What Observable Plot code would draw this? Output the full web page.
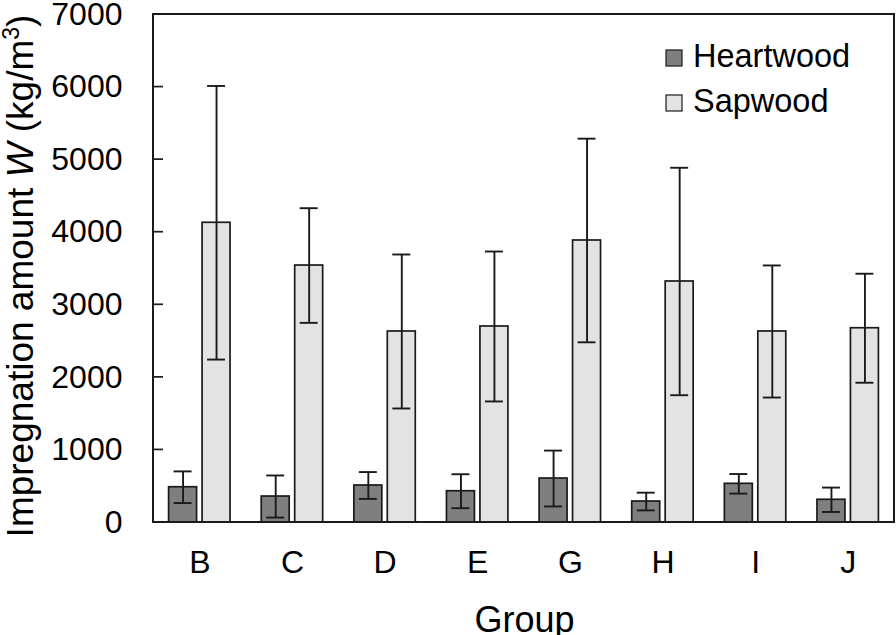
<!DOCTYPE html>
<html><head><meta charset="utf-8">
<script src="https://cdn.jsdelivr.net/npm/d3@7"></script>
<script src="https://cdn.jsdelivr.net/npm/@observablehq/plot@0.6"></script>
<style>body{margin:0;background:#fff} svg{display:block}</style>
</head><body><div id="chart"></div>
<script>
// ---- data ----
const groups = ["B", "C", "D", "E", "G", "H", "I", "J"];
const seriesNames = ["Heartwood", "Sapwood"];
const heartMean = [486, 358, 510, 431, 606, 289, 533, 313];
const heartSD   = [218, 290, 185, 234, 385, 122, 135, 168];
const sapMean   = [4130, 3541, 2632, 2701, 3886, 3321, 2632, 2677];
const sapSD     = [1885, 790, 1061, 1033, 1403, 1567, 910, 751];
const yTicks = [0, 1000, 2000, 3000, 4000, 5000, 6000, 7000];
const xTitle = "Group";
const fills = ["#7f7f7f", "#e3e3e3"];

const rows = [];
groups.forEach((g, i) => {
  rows.push({group: g, series: seriesNames[0], mean: heartMean[i], lo: heartMean[i] - heartSD[i], hi: heartMean[i] + heartSD[i]});
  rows.push({group: g, series: seriesNames[1], mean: sapMean[i], lo: sapMean[i] - sapSD[i], hi: sapMean[i] + sapSD[i]});
});

const W = 896, H = 635;
const M = {left: 153, right: 2, top: 14, bottom: 113};
const ink = "#1a1a1a";

const plot = Plot.plot({
  width: W, height: H,
  marginLeft: M.left, marginRight: M.right, marginTop: M.top, marginBottom: M.bottom,
  style: {fontFamily: "'Liberation Sans', Arial, sans-serif", fontSize: "32px", color: "#000", background: "#fff"},
  fx: {domain: groups, padding: 0, round: false, label: null, axis: "bottom", tickSize: 0, tickPadding: 28},
  x: {domain: seriesNames, axis: null, round: false, paddingInner: 0.164, paddingOuter: 0.466},
  y: {domain: [0, 7000], ticks: yTicks, tickFormat: d => String(d), tickSize: 0, tickPadding: 31, label: null},
  color: {domain: seriesNames, range: fills},
  marks: [
    Plot.barY(rows, {fx: "group", x: "series", y: "mean", fill: "series", stroke: ink, strokeWidth: 1.7}),
    Plot.ruleX(rows, {fx: "group", x: "series", y1: "lo", y2: "hi", stroke: ink, strokeWidth: 1.9}),
    Plot.tickY(rows, {fx: "group", x: "series", y: "hi", inset: 5, stroke: ink, strokeWidth: 1.9}),
    Plot.tickY(rows, {fx: "group", x: "series", y: "lo", inset: 5, stroke: ink, strokeWidth: 1.9})
  ]
});

const svg = d3.select(plot);
const ys = plot.scale("y");
const fx0 = M.left, fx1 = W - M.right, fy0 = M.top, fy1 = H - M.bottom;

// inward y ticks
svg.append("g").selectAll("line").data(yTicks).join("line")
  .attr("x1", fx0).attr("x2", fx0 + 10)
  .attr("y1", d => ys.apply(d)).attr("y2", d => ys.apply(d))
  .attr("stroke", ink).attr("stroke-width", 1.7);

// frame
svg.append("rect").attr("x", fx0).attr("y", fy0).attr("width", fx1 - fx0).attr("height", fy1 - fy0)
  .attr("fill", "none").attr("stroke", ink).attr("stroke-width", 2);

// legend
const lg = svg.append("g").attr("font-size", 32.5).attr("text-anchor", "start");
seriesNames.forEach((s, i) => {
  const yy = 50 + i * 45;
  lg.append("rect").attr("x", 666).attr("y", yy).attr("width", 16).attr("height", 16)
    .attr("fill", fills[i]).attr("stroke", ink).attr("stroke-width", 1.2);
  lg.append("text").attr("x", 693).attr("y", yy + 17).attr("fill", "#000").text(s);
});

// x title
svg.append("text").attr("x", (fx0 + fx1) / 2 + 1).attr("y", 632).attr("text-anchor", "middle")
  .attr("font-size", 36).attr("fill", "#000").text(xTitle);

// y title
const yt = svg.append("text").attr("transform", "translate(33,276) rotate(-90)")
  .attr("text-anchor", "middle").attr("font-size", 37).attr("fill", "#000");
yt.append("tspan").text("Impregnation amount ");
yt.append("tspan").attr("font-style", "italic").text("W");
yt.append("tspan").text(" (kg/m");
yt.append("tspan").attr("font-size", 23).attr("dy", -14).text("3");
yt.append("tspan").attr("dy", 14).text(")");

document.getElementById("chart").appendChild(plot);
</script>
</body></html>
